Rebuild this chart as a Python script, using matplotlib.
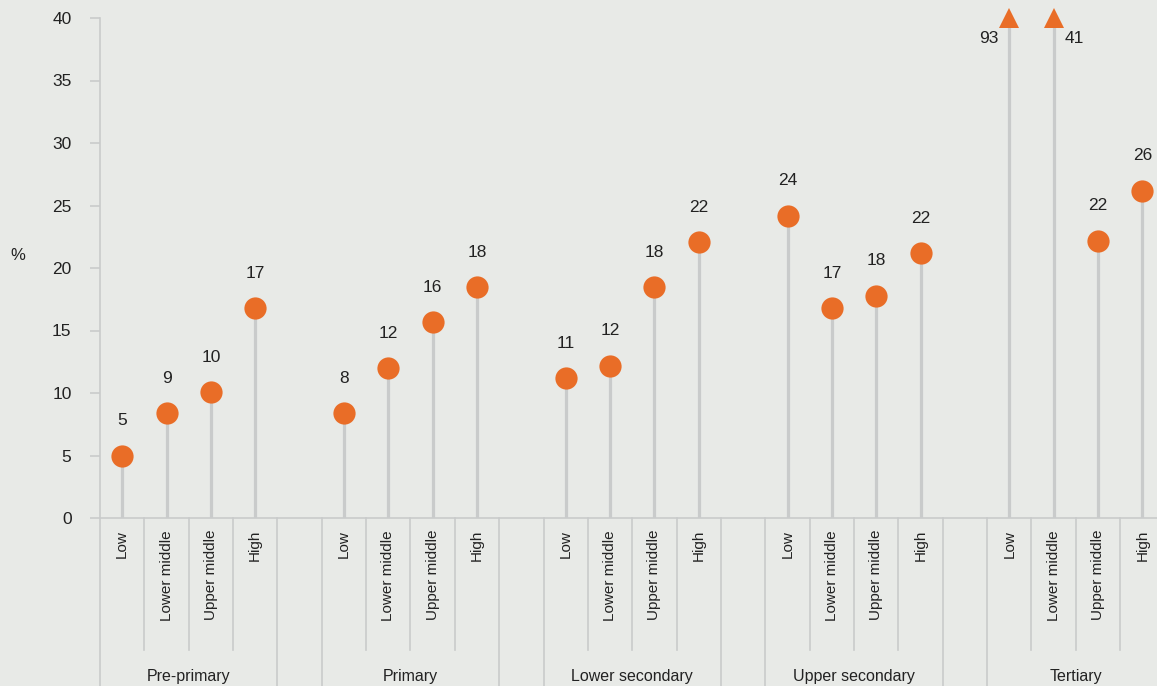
import numpy as np
import matplotlib.pyplot as plt
from matplotlib import transforms

plt.rcParams['font.family'] = ['Liberation Sans', 'DejaVu Sans']

# dados
niveis = ['Pre-primary', 'Primary', 'Lower secondary', 'Upper secondary', 'Tertiary']
rendas = ['Low', 'Lower middle', 'Upper middle', 'High']
valores = [
    [5.0, 8.4, 10.1, 16.8],
    [8.4, 12.0, 15.7, 18.5],
    [11.2, 12.2, 18.5, 22.1],
    [24.2, 16.8, 17.8, 21.2],
    [93.0, 41.0, 22.2, 26.2],
]
rotulos = [
    ['5', '9', '10', '17'],
    ['8', '12', '16', '18'],
    ['11', '12', '18', '22'],
    ['24', '17', '18', '22'],
    ['93', '41', '22', '26'],
]

laranja = '#E96D27'
cinza = '#C9CBCB'
fundo = '#E8EAE7'
texto = '#222222'
ymax = 40

fig = plt.figure(figsize=(11.57, 6.86), dpi=100, facecolor=fundo)
ax = fig.add_axes([100 / 1157, 168 / 686, 1057 / 1157, 500 / 686])
ax.set_facecolor(fundo)

trans = transforms.blended_transform_factory(ax.transData, ax.transAxes)

for g, nivel in enumerate(niveis):
    base = g * 5
    for k, renda in enumerate(rendas):
        x = base + k
        v = valores[g][k]
        if v > ymax:
            ax.plot([x, x], [0, ymax - 0.7], color=cinza, lw=2.3, zorder=1, solid_capstyle='butt')
            ax.plot(x, ymax, marker='^', color=laranja, ms=14, mew=0, clip_on=False, zorder=3)
            if k == 0:
                ax.annotate(rotulos[g][k], (x, ymax), xytext=(-8, -15), textcoords='offset points',
                            ha='right', va='center', fontsize=12.5, color=texto)
            else:
                ax.annotate(rotulos[g][k], (x, ymax), xytext=(8, -15), textcoords='offset points',
                            ha='left', va='center', fontsize=12.5, color=texto)
        else:
            ax.plot([x, x], [0, v], color=cinza, lw=2.3, zorder=1, solid_capstyle='butt')
            ax.plot(x, v, marker='o', color=laranja, ms=16, mew=0, zorder=3, clip_on=False)
            ax.annotate(rotulos[g][k], (x, v), xytext=(0, 25), textcoords='offset points',
                        ha='center', va='center', fontsize=12.5, color=texto)
        # rotulo da categoria
        ax.text(x, -0.024, renda, transform=trans, rotation=90, ha='center', va='top',
                fontsize=11, color=texto)
    # separadores
    for s in [base + 0.5, base + 1.5, base + 2.5]:
        ax.plot([s, s], [0, -0.264], transform=trans, color=cinza, lw=1.2, clip_on=False)
    for s in [base - 0.5, base + 3.5]:
        ax.plot([s, s], [0, -0.34], transform=trans, color=cinza, lw=1.2, clip_on=False)
    ax.text(base + 1.5, -0.318, nivel, transform=trans, ha='center', va='center',
            fontsize=11.5, color=texto)

ax.set_xlim(-0.5, 23.33)
ax.set_ylim(0, ymax)
ax.set_xticks([])
ax.set_yticks(np.arange(0, 41, 5))
ax.tick_params(axis='y', length=7.5, width=1.2, color=cinza, pad=13, labelsize=12.5, labelcolor=texto)
for lado in ['top', 'right']:
    ax.spines[lado].set_visible(False)
ax.spines['left'].set_color(cinza)
ax.spines['bottom'].set_color(cinza)
ax.spines['left'].set_linewidth(1.2)
ax.spines['bottom'].set_linewidth(1.2)

fig.text(18 / 1157, 1 - 256 / 686, '%', ha='center', va='center', fontsize=12, color=texto)

fig.savefig('out.png', dpi=100, facecolor=fundo)
